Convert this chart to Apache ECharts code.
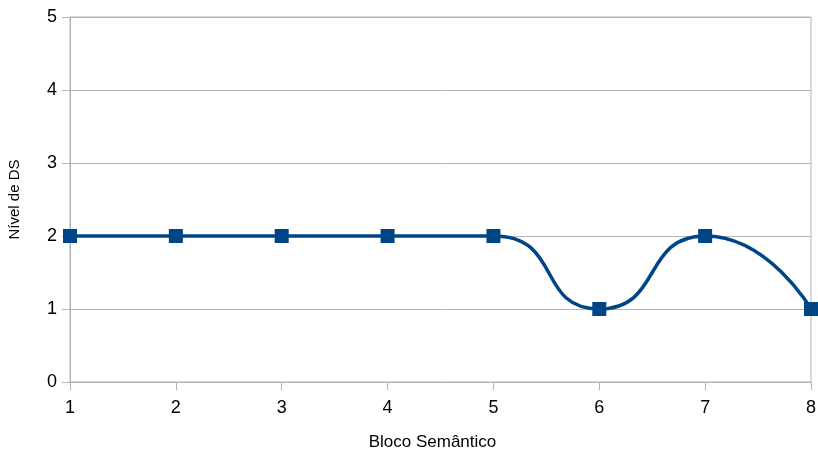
<!DOCTYPE html>
<html><head><meta charset="utf-8">
<script src="https://cdn.jsdelivr.net/npm/echarts@6/dist/echarts.min.js"></script>
<style>html,body{margin:0;padding:0;background:#fff}#c{width:818px;height:449px}</style>
</head><body><div id="c"></div>
<script>
const blocks = [1, 2, 3, 4, 5, 6, 7, 8];
const dsLevels = [2, 2, 2, 2, 2, 1, 2, 1];
const yTicks = [0, 1, 2, 3, 4, 5];

const chart = echarts.init(document.getElementById('c'));
chart.setOption({
  animation: false,
  grid: {left: 70, right: 7, top: 17, bottom: 67, containLabel: false, outerBoundsMode: 'none', show: true, borderColor: '#b3b3b3', borderWidth: 1, backgroundColor: 'transparent'},
  xAxis: {
    type: 'value', min: 1, max: 8, interval: 1,
    name: 'Bloco Semântico', nameLocation: 'middle', nameGap: 52,
    nameTextStyle: {fontFamily: 'Liberation Sans', fontSize: 17, color: '#000', padding: [0, 16, 0, 0]},
    axisLine: {show: true, lineStyle: {color: '#b3b3b3'}},
    axisTick: {show: true, length: 8, lineStyle: {color: '#b3b3b3'}},
    axisLabel: {fontFamily: 'Liberation Sans', fontSize: 18, color: '#000', margin: 17},
    splitLine: {show: false}
  },
  yAxis: {
    type: 'value', min: yTicks[0], max: yTicks[yTicks.length - 1], interval: 1,
    name: 'Nível de DS', nameLocation: 'middle', nameGap: 48, nameRotate: 90,
    nameTextStyle: {fontFamily: 'Liberation Sans', fontSize: 15, color: '#000'},
    axisLine: {show: true, lineStyle: {color: '#b3b3b3'}},
    axisTick: {show: true, length: 8, lineStyle: {color: '#b3b3b3'}},
    axisLabel: {fontFamily: 'Liberation Sans', fontSize: 18, color: '#000', margin: 13},
    splitLine: {show: true, lineStyle: {color: '#b3b3b3'}}
  },
  series: [{
    type: 'line',
    data: blocks.map((b, i) => [b, dsLevels[i]]),
    smooth: 0.6,
    symbol: 'rect', symbolSize: 14,
    lineStyle: {color: '#004586', width: 3.5},
    itemStyle: {color: '#004586'},
    clip: false
  }]
});
</script></body></html>
